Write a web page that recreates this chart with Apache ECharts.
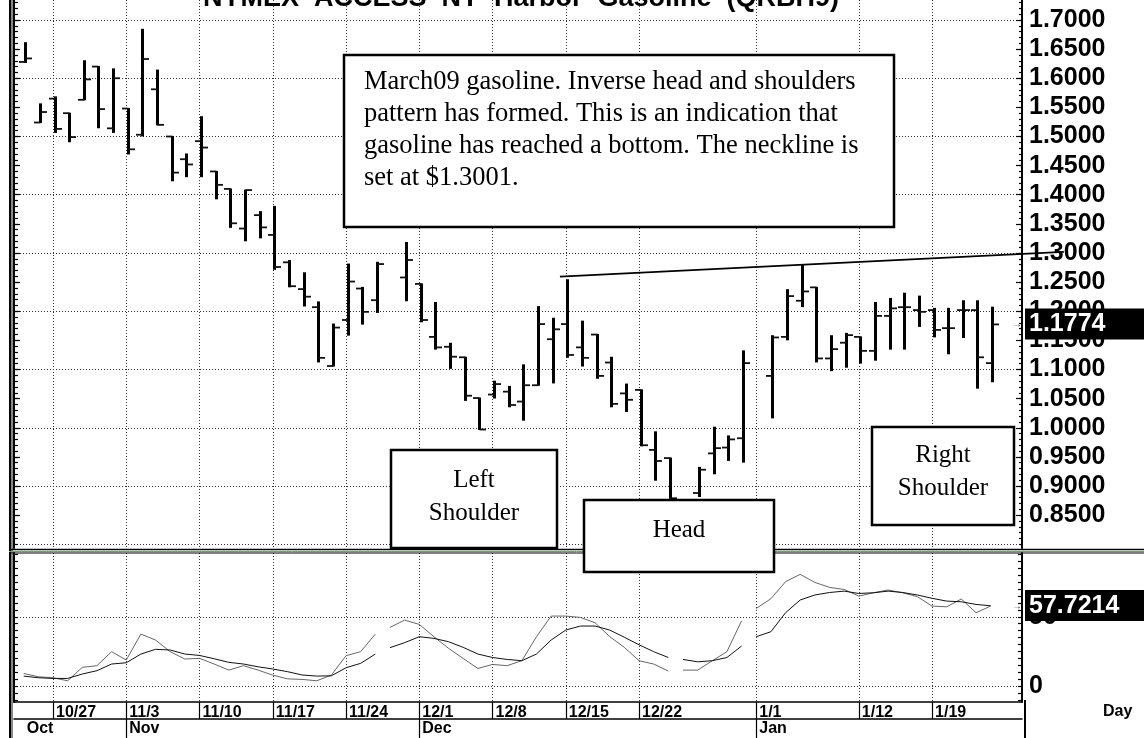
<!DOCTYPE html>
<html><head><meta charset="utf-8">
<script src="https://cdn.jsdelivr.net/npm/echarts@6.0.0/dist/echarts.min.js"></script>
<style>html,body{margin:0;padding:0;background:#fff}#c{width:1144px;height:738px}</style>
</head><body><div id="c"></div>
<script>
// ---------------- DATA ----------------
const dates = ['10/23','10/24','10/27','10/28','10/29','10/30','10/31',
 '11/3','11/4','11/5','11/6','11/7','11/10','11/11','11/12','11/13','11/14',
 '11/17','11/18','11/19','11/20','11/21','11/24','11/25','11/26','11/27','11/28',
 '12/1','12/2','12/3','12/4','12/5','12/8','12/9','12/10','12/11','12/12',
 '12/15','12/16','12/17','12/18','12/19','12/22','12/23','12/24','12/25','12/26',
 '12/29','12/30','12/31','1/1','1/2','1/5','1/6','1/7','1/8','1/9',
 '1/12','1/13','1/14','1/15','1/16','1/19','1/20','1/21','1/22','1/23'];
const opens = [1.628,1.524,1.565,1.540,1.563,1.620,1.514,1.548,1.503,1.581,
 1.500,1.461,1.492,1.440,1.410,1.342,1.365,1.331,1.284,1.238,
 1.207,1.106,1.185,1.239,1.219,null,1.258,1.247,1.156,1.139,
 1.121,1.051,1.057,1.062,1.045,1.073,1.152,1.178,1.138,1.160,
 1.112,1.059,1.065,0.962,0.948,null,0.888,0.956,0.966,0.982,
 null,1.089,1.156,1.218,1.241,1.119,1.146,1.156,1.132,1.192,
 1.207,1.202,1.202,1.171,1.202,1.202,1.111];
const highs = [1.661,1.556,1.568,1.540,1.630,1.620,1.616,1.548,1.684,1.614,
 1.500,1.470,1.534,1.440,1.410,1.408,1.371,1.380,1.287,1.266,
 1.216,1.178,1.281,1.241,1.284,null,1.318,1.247,1.215,1.145,
 1.121,1.051,1.080,1.071,1.108,1.208,1.188,1.254,1.183,1.160,
 1.121,1.075,1.065,0.993,0.948,null,0.932,1.001,0.986,1.132,
 null,1.158,1.237,1.279,1.241,1.158,1.162,1.156,1.215,1.222,
 1.231,1.226,1.205,1.205,1.218,1.218,1.207];
const lows = [1.627,1.524,1.507,1.491,1.563,1.515,1.507,1.470,1.501,1.520,
 1.424,1.431,1.431,1.393,1.344,1.321,1.326,1.272,1.242,1.209,
 1.113,1.106,1.159,1.178,1.198,null,1.218,1.182,1.135,1.102,
 1.047,0.997,1.051,1.036,1.013,1.073,1.077,1.121,1.106,1.085,
 1.036,1.028,0.969,0.910,0.879,null,0.882,0.921,0.944,0.941,
 null,1.017,1.151,1.208,1.113,1.098,1.104,1.111,1.116,1.135,
 1.135,1.174,1.156,1.127,1.155,1.068,1.079];
const closes = [1.634,1.542,1.513,1.499,1.598,1.547,1.600,1.478,1.633,1.520,
 1.438,1.452,1.481,1.417,1.351,1.408,1.344,1.276,1.243,1.225,
 1.120,1.172,1.251,1.199,1.281,null,1.288,1.185,1.138,1.122,
 1.055,0.997,1.075,1.039,1.073,1.178,1.169,1.125,1.120,1.089,
 1.041,1.048,0.970,0.943,0.879,null,0.928,0.965,0.980,1.111,
 null,1.155,1.226,1.234,1.119,1.135,1.159,1.132,1.192,1.205,
 1.207,1.199,1.168,1.171,1.202,1.121,1.1774];
const stochK = [9.1,6.7,6.0,3.8,13.5,14.7,24.8,18.8,37.5,33.2,
 24.8,19.5,20.0,15.9,11.5,14.7,11.5,7.9,5.2,4.8,
 3.8,7.9,21.9,24.8,37.5,42.3,47.6,44.5,35.6,27.2,
 19.9,12.7,15.6,14.7,18.3,35.6,50.5,50.5,49.5,45.7,
 35.6,27.9,18.3,15.9,10.8,11.5,11.5,18.3,24.8,47.1,
 56.0,63.0,75.3,80.6,74.8,71.2,69.7,64.9,67.3,69.3,
 67.3,64.5,57.7,57.2,62.8,52.9,57.7214];
const stochD = [7.2,6.0,5.5,5.5,8.7,11.1,15.9,16.8,23.1,26.5,
 26.0,23.1,22.1,19.7,17.1,15.9,13.9,12.3,10.4,8.0,
 7.2,7.4,13.2,16.4,23.1,27.7,31.3,35.6,34.4,32.0,
 27.9,23.1,20.6,19.2,18.3,23.1,33.2,40.4,43.3,43.3,
 40.4,35.2,29.8,24.8,20.6,19.2,17.5,18.3,20.6,28.9,
 35.6,39.2,52.9,62.1,65.7,67.5,68.5,66.8,67.3,68.5,
 67.5,65.7,63.3,61.3,60.8,58.9,57.9];
const holidays = ['11/27','12/25','1/1'];
const weekLabels = ['10/27','11/3','11/10','11/17','11/24','12/1','12/8','12/15','12/22','1/1','1/12','1/19'];
const monthNames = ['Oct','Nov','Dec','Jan'];
const monthStarts = ['10/23','11/3','12/1','1/1'];
const priceLabels = [0.85,0.90,0.95,1.00,1.05,1.10,1.15,1.20,1.25,1.30,1.35,1.40,1.45,1.50,1.55,1.60,1.65,1.70];
const priceGridLines = [0.8,0.9,1.0,1.1,1.2,1.3,1.4,1.5,1.6,1.7];
const stochLabels = [0, 50];
const neckline = [36.6, 1.2593, 71.0, 1.3020]; // start slot, start price, end slot, end price
const titleText = 'NYMEX  ACCESS  NY  Harbor  Gasoline  (QRBH9)';
const noteLines = ['March09 gasoline. Inverse head and shoulders',
 'pattern has formed. This is an indication that',
 'gasoline has reached a bottom. The neckline is',
 'set at $1.3001.'];

// ---------------- BUILD ----------------
const SANS = '"Liberation Sans", Arial, sans-serif';
const SERIF = '"Liberation Serif", "Times New Roman", serif';
const XMIN = -0.662, XMAX = 68.14;
const PMIN = 0.7936, PMAX = 1.7343;
const SMIN = -11.5, SMAX = 96.0;

const slotOf = d => dates.indexOf(d);
const weekSlots = weekLabels.map(slotOf);
const monthSlots = monthStarts.map(slotOf);
const monthTickSlots = monthSlots.slice(1);
const priceMinor = []; for (let v = 80; v <= 173; v++) priceMinor.push(v / 100);
const stochTicks = []; for (let v = -10; v <= 95; v += 5) stochTicks.push(v);

const ohlcData = dates.map((d, i) => opens[i] == null ? null : [i, opens[i], highs[i], lows[i], closes[i]]).filter(Boolean);
function stochData(arr) {
  const out = [];
  arr.forEach((v, i) => { if (i > 0 && holidays.includes(dates[i])) out.push([i, '-']); out.push([i, v]); });
  return out;
}
const last = dates.length - 1;

function ohlcRender(params, api) {
  const x = api.value(0);
  const o = api.coord([x, api.value(1)]), h = api.coord([x, api.value(2)]);
  const l = api.coord([x, api.value(3)]), c = api.coord([x, api.value(4)]);
  const px = Math.round(h[0] + 1.5) + 0.5;
  return { type: 'group', children: [
    { type: 'line', shape: { x1: px, y1: h[1] - 0.5, x2: px, y2: l[1] + 0.5 }, style: { stroke: '#000', lineWidth: 3, lineCap: 'butt' } },
    { type: 'line', shape: { x1: px - 6.5, y1: o[1], x2: px, y2: o[1] }, style: { stroke: '#111', lineWidth: 1.8 } },
    { type: 'line', shape: { x1: px, y1: c[1], x2: px + 6.5, y2: c[1] }, style: { stroke: '#111', lineWidth: 1.8 } }
  ]};
}
function necklineRender(params, api) {
  const a = api.coord([api.value(0), api.value(1)]);
  const b = api.coord([api.value(2), api.value(3)]);
  return { type: 'line', shape: { x1: a[0], y1: a[1], x2: b[0], y2: b[1] }, style: { stroke: '#000', lineWidth: 1.8 } };
}
function tagRender(params, api) {
  const pt = api.coord([api.value(0), api.value(1)]);
  const cs = params.coordSys;
  const xr = cs.x + cs.width;
  const W = api.getWidth();
  return { type: 'group', children: [
    { type: 'rect', shape: { x: xr + 3, y: pt[1] - 16, width: W - xr - 3, height: 31 }, style: { fill: '#000' } },
    { type: 'text', style: { text: api.value(1).toFixed(4), x: xr + 7, y: pt[1], font: 'bold 25px ' + SANS, fill: '#fff',
      align: 'left', verticalAlign: 'middle', textAlign: 'left', textVerticalAlign: 'middle' } },
    { type: 'text', style: { text: '\u2192', x: xr - 10, y: pt[1], font: '10px ' + SANS, fill: '#444',
      align: 'left', verticalAlign: 'middle', textAlign: 'left', textVerticalAlign: 'middle' } }
  ]};
}

const dotted = { show: true, lineStyle: { color: '#333', width: 1, type: [1, 2] } };
const axLine = w => ({ show: true, onZero: false, lineStyle: { color: '#000', width: w } });
const noLine = { show: false, onZero: false };
const tickStyle = { color: '#000', width: 1.2 };
const lblFont = { color: '#000', fontFamily: SANS, fontWeight: 'bold', hideOverlap: false };

const option = {
  animation: false,
  backgroundColor: '#fff',
  grid: [
    { left: 14, top: 0, width: 1008, height: 548, containLabel: false, outerBoundsMode: 'none' },
    { left: 14, top: 553, width: 1008, height: 149, containLabel: false, outerBoundsMode: 'none' }
  ],
  xAxis: [
    { gridIndex: 0, type: 'value', min: XMIN, max: XMAX, axisLine: noLine,
      axisTick: { show: false, customValues: weekSlots }, axisLabel: { show: false }, splitLine: dotted },
    { gridIndex: 1, type: 'value', min: XMIN, max: XMAX, position: 'bottom', axisLine: axLine(1.5),
      axisTick: { show: true, inside: false, length: 17, customValues: weekSlots, lineStyle: tickStyle },
      axisLabel: Object.assign({ show: true, customValues: weekSlots, formatter: v => dates[Math.round(v)],
        align: 'left', verticalAlign: 'top', margin: 3, padding: [0, 0, 0, 3], fontSize: 16 }, lblFont),
      splitLine: dotted },
    { gridIndex: 1, type: 'value', min: XMIN, max: XMAX, position: 'bottom', offset: 17, axisLine: axLine(1.5),
      axisTick: { show: true, inside: false, length: 19, customValues: monthTickSlots, lineStyle: tickStyle },
      axisLabel: Object.assign({ show: true, customValues: monthSlots,
        formatter: v => monthNames[monthSlots.indexOf(Math.round(v))],
        align: 'left', verticalAlign: 'top', margin: 2, padding: [0, 0, 0, 3], fontSize: 16 }, lblFont),
      splitLine: { show: false } }
  ],
  yAxis: [
    { gridIndex: 0, type: 'value', position: 'right', min: PMIN, max: PMAX, axisLine: axLine(2),
      axisTick: { show: true, inside: true, length: 6, customValues: priceLabels, lineStyle: tickStyle },
      axisLabel: Object.assign({ show: true, customValues: priceLabels, formatter: v => v.toFixed(4), margin: 7, fontSize: 25 }, lblFont),
      splitLine: { show: false } },
    { gridIndex: 0, type: 'value', position: 'right', min: PMIN, max: PMAX, axisLine: noLine,
      axisTick: { show: true, inside: true, length: 3, customValues: priceMinor, lineStyle: tickStyle },
      axisLabel: { show: false }, splitLine: { show: false } },
    { gridIndex: 0, type: 'value', position: 'left', min: PMIN, max: PMAX, axisLine: axLine(2),
      axisTick: { show: true, inside: true, length: 4, customValues: priceMinor, lineStyle: tickStyle },
      axisLabel: { show: false }, splitLine: { show: false } },
    { gridIndex: 0, type: 'value', position: 'left', min: PMIN, max: PMAX, axisLine: noLine,
      axisTick: { show: true, inside: true, length: 6, customValues: priceLabels, lineStyle: tickStyle },
      axisLabel: { show: false }, splitLine: { show: false } },
    { gridIndex: 0, type: 'value', position: 'left', min: PMIN, max: PMAX, axisLine: noLine,
      axisTick: { show: false, customValues: priceGridLines },
      axisLabel: { show: false }, splitLine: dotted },
    { gridIndex: 1, type: 'value', position: 'right', min: SMIN, max: SMAX, axisLine: axLine(2),
      axisTick: { show: true, inside: true, length: 4, customValues: stochTicks, lineStyle: tickStyle },
      axisLabel: Object.assign({ show: true, customValues: stochLabels, formatter: v => String(v), margin: 7, fontSize: 25 }, lblFont),
      splitLine: { show: false } },
    { gridIndex: 1, type: 'value', position: 'left', min: SMIN, max: SMAX, axisLine: axLine(2),
      axisTick: { show: true, inside: true, length: 4, customValues: stochTicks, lineStyle: tickStyle },
      axisLabel: { show: false }, splitLine: { show: false } },
    { gridIndex: 1, type: 'value', position: 'left', min: SMIN, max: SMAX, axisLine: noLine,
      axisTick: { show: false, customValues: stochLabels },
      axisLabel: { show: false }, splitLine: dotted }
  ],
  series: [
    { type: 'custom', name: 'OHLC', xAxisIndex: 0, yAxisIndex: 0, data: ohlcData,
      encode: { x: 0, y: [1, 2, 3, 4] }, renderItem: ohlcRender, z: 3, silent: true },
    { type: 'custom', name: 'Neckline', xAxisIndex: 0, yAxisIndex: 0, data: [neckline],
      encode: { x: [0, 2], y: [1, 3] }, renderItem: necklineRender, clip: false, z: 4, silent: true },
    { type: 'line', name: '%K', xAxisIndex: 1, yAxisIndex: 5, data: stochData(stochK), symbol: 'none',
      connectNulls: false, lineStyle: { color: '#666', width: 1 }, silent: true },
    { type: 'line', name: '%D', xAxisIndex: 1, yAxisIndex: 5, data: stochData(stochD), symbol: 'none',
      connectNulls: false, lineStyle: { color: '#111', width: 1 }, silent: true },
    { type: 'custom', xAxisIndex: 0, yAxisIndex: 0, data: [[last, closes[last]]], renderItem: tagRender, z: 10, silent: true },
    { type: 'custom', xAxisIndex: 1, yAxisIndex: 5, data: [[last, stochK[last]]], renderItem: tagRender, z: 10, silent: true }
  ],
  graphic: [
    { type: 'rect', shape: { x: 9, y: 0, width: 2, height: 738 }, style: { fill: '#000' }, z: 100 },
    { type: 'rect', shape: { x: 11, y: 0, width: 2, height: 738 }, style: { fill: '#888' }, z: 100 },
    { type: 'line', shape: { x1: 9, y1: 549.5, x2: 1144, y2: 549.5 }, style: { stroke: '#000', lineWidth: 1.5 }, z: 100 },
    { type: 'line', shape: { x1: 9, y1: 551.5, x2: 1144, y2: 551.5 }, style: { stroke: '#7a9a7a', lineWidth: 1 }, z: 100 },
    { type: 'line', shape: { x1: 9, y1: 553, x2: 1144, y2: 553 }, style: { stroke: '#000', lineWidth: 1 }, z: 100 },
    { type: 'line', shape: { x1: 1025, y1: 700, x2: 1025, y2: 738 }, style: { stroke: '#000', lineWidth: 2 }, z: 100 },
    { type: 'text', x: 521, y: -1, z: 100, style: { text: titleText, font: 'bold 27px ' + SANS, fill: '#000',
      align: 'center', verticalAlign: 'middle', textAlign: 'center', textVerticalAlign: 'middle' } },
    { type: 'text', x: 1103, y: 712, z: 100, style: { text: 'Day', font: 'bold 16px ' + SANS, fill: '#000',
      align: 'left', verticalAlign: 'middle', textAlign: 'left', textVerticalAlign: 'middle' } },
    { type: 'rect', z: 100, shape: { x: 344, y: 55, width: 550, height: 172 }, style: { fill: '#fff', stroke: '#000', lineWidth: 2.5 } },
    { type: 'text', x: 364, y: 65.7, z: 101, style: { text: noteLines.join('\n'), font: '26.5px ' + SERIF, lineHeight: 32, fill: '#000',
      align: 'left', verticalAlign: 'top', textAlign: 'left', textVerticalAlign: 'top' } },
    { type: 'rect', z: 100, shape: { x: 391, y: 450, width: 166, height: 98 }, style: { fill: '#fff', stroke: '#000', lineWidth: 2.5 } },
    { type: 'text', x: 474, y: 463.5, z: 101, style: { text: 'Left\nShoulder', font: '25px ' + SERIF, lineHeight: 33, fill: '#000',
      align: 'center', verticalAlign: 'top', textAlign: 'center', textVerticalAlign: 'top' } },
    { type: 'rect', z: 100, shape: { x: 584, y: 500, width: 190, height: 72 }, style: { fill: '#fff', stroke: '#000', lineWidth: 2.5 } },
    { type: 'text', x: 679, y: 530, z: 101, style: { text: 'Head', font: '25px ' + SERIF, fill: '#000',
      align: 'center', verticalAlign: 'middle', textAlign: 'center', textVerticalAlign: 'middle' } },
    { type: 'rect', z: 100, shape: { x: 872, y: 427, width: 142, height: 98 }, style: { fill: '#fff', stroke: '#000', lineWidth: 2.5 } },
    { type: 'text', x: 943, y: 438.5, z: 101, style: { text: 'Right\nShoulder', font: '25px ' + SERIF, lineHeight: 33, fill: '#000',
      align: 'center', verticalAlign: 'top', textAlign: 'center', textVerticalAlign: 'top' } }
  ]
};
const chart = echarts.init(document.getElementById('c'), null, { renderer: 'canvas' });
chart.setOption(option);
</script>
</body></html>
